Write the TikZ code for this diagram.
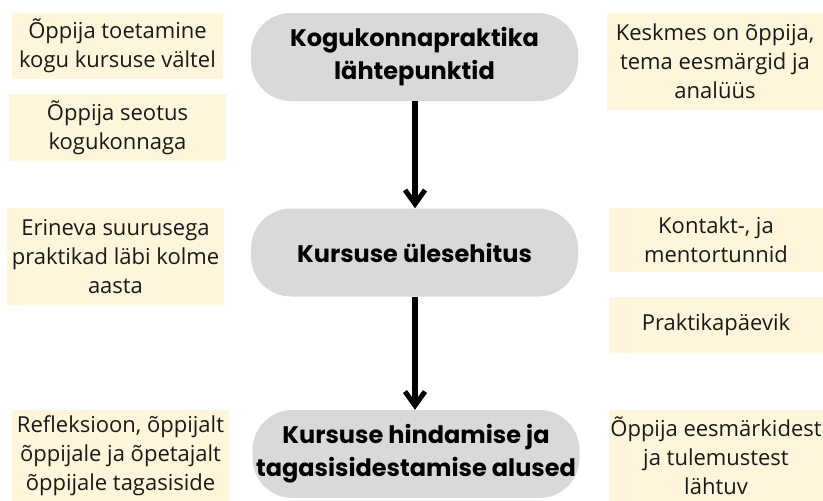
\documentclass[tikz,border=0pt]{standalone}
\usepackage{fontspec}
\setmainfont{Open Sans}
\newfontfamily\titlefont{Poppins}
\usetikzlibrary{arrows.meta}
\definecolor{noteyellow}{HTML}{FFF5DA}
\definecolor{stepgray}{HTML}{D9D9D9}
\tikzset{
  note/.style={fill=noteyellow, draw=none, align=center, inner sep=0pt,
    font=\fontsize{22}{29}\selectfont, text=black!90},
  stage/.style={fill=stepgray, draw=none, rounded corners=40pt, align=center, inner sep=0pt,
    minimum width=327pt, minimum height=88pt, font=\titlefont\bfseries\fontsize{24}{33}\selectfont},
  flow/.style={line width=5.5pt, -{Straight Barb[length=14pt, width=20pt, line width=5pt]}}
}
\begin{document}
\begin{tikzpicture}[x=1pt,y=-1pt]
\useasboundingbox (0,0) rectangle (823,501);
% stages
\node[stage] (g1) at (414.5,57) {Kogukonnapraktika\\lähtepunktid};
\node[stage] (g2) at (414.5,252.5) {Kursuse ülesehitus};
\node[stage] (g3) at (416,454) {Kursuse hindamise ja\\tagasisidestamise alused};
% left notes
\node[note, minimum width=211pt, minimum height=66pt] (l1) at (117.5,46) {Õppija toetamine\\kogu kursuse vältel};
\node[note, minimum width=217pt, minimum height=67pt] (l2) at (117.5,127.5) {Õppija seotus\\kogukonnaga};
\node[note, minimum width=217pt, minimum height=97pt] (l3) at (115.5,256.5) {Erineva suurusega\\praktikad läbi kolme\\aasta};
\node[note, minimum width=217pt, minimum height=91pt] (l4) at (120.5,455.5) {Refleksioon, õppijalt\\õppijale ja õpetajalt\\õppijale tagasiside};
% right notes
\node[note, minimum width=216pt, minimum height=97pt] (r1) at (715,61.5) {Keskmes on õppija,\\tema eesmärgid ja\\analüüs};
\node[note, minimum width=214pt, minimum height=64pt] (r2) at (716,240) {Kontakt-, ja\\mentortunnid};
\node[note, minimum width=214pt, minimum height=56pt] (r3) at (716,325) {Praktikapäevik};
\node[note, minimum width=214pt, minimum height=91pt] (r4) at (716,455.5) {Õppija eesmärkidest\\ja tulemustest\\lähtuv};
% arrows
\draw[flow] (g1.south -| 415,0) -- (g2.north -| 415,0);
\draw[flow] (g2.south -| 415,0) -- (g3.north -| 415,0);
\end{tikzpicture}
\end{document}
